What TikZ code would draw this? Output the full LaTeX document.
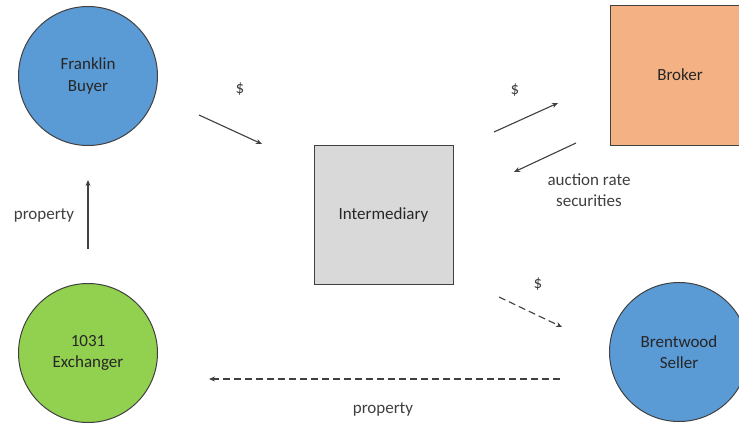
\documentclass[tikz,border=0pt]{standalone}
\usepackage{fontspec}
\setmainfont{Carlito}
\usetikzlibrary{arrows.meta}
\definecolor{bluefill}{HTML}{5B9BD5}
\definecolor{greenfill}{HTML}{92D050}
\definecolor{orangefill}{HTML}{F4B183}
\definecolor{greyfill}{HTML}{D9D9D9}
\definecolor{edgecol}{HTML}{404040}
\definecolor{txtcol}{HTML}{262626}
\definecolor{lblcol}{HTML}{404040}
\begin{document}
\begin{tikzpicture}[x=1pt,y=-1pt,
  shapetxt/.style={font=\fontsize{17}{21.5}\selectfont, text=txtcol, align=center},
  disc/.style={circle, draw=edgecol, line width=1pt, minimum size=139pt, inner sep=0pt, shapetxt},
  boxnode/.style={rectangle, draw=edgecol, line width=1pt, inner sep=0pt, shapetxt},
  lbl/.style={font=\fontsize{17}{21}\selectfont, text=lblcol, align=center},
  flow/.style={draw=lblcol, line width=1.1pt, -{Stealth[length=6pt,width=5pt]}},
  dflow/.style={flow, dash pattern=on 7pt off 4pt}]
\useasboundingbox (0,0) rectangle (739,423);
\clip (0,0) rectangle (739,423);
\fill[white] (0,0) rectangle (739,423);
% shapes
\node[disc, fill=bluefill] (buyer) at (88,76) {Franklin\\Buyer};
\node[disc, fill=greenfill] (exch) at (88,353) {1031\\Exchanger};
\node[disc, fill=bluefill] (seller) at (679,352) {Brentwood\\Seller};
\node[boxnode, fill=greyfill, minimum width=139pt, minimum height=139pt] (inter) at (383.5,214.5) {Intermediary};
\node[boxnode, fill=orangefill, minimum width=138pt, minimum height=140pt, anchor=north west] (broker) at (610,5) {};
\node[shapetxt] (brokertxt) at (680,75) {Broker};
% connector end points
\coordinate (a1) at (199,115); \coordinate (a2) at (262,144);
\coordinate (b1) at (494,132); \coordinate (b2) at (558,103);
\coordinate (c1) at (576,143); \coordinate (c2) at (514,172);
\coordinate (d1) at (499,297); \coordinate (d2) at (562,327);
\coordinate (e1) at (560,379); \coordinate (e2) at (209,379);
\coordinate (f1) at (88,249);  \coordinate (f2) at (88,180);
% connectors
\draw[flow] (a1) -- (a2);
\draw[flow] (b1) -- (b2);
\draw[flow] (c1) -- (c2);
\draw[dflow] (d1) -- (d2);
\draw[dflow] (e1) -- (e2);
\draw[flow] (f1) -- (f2);
% labels
\node[lbl] (l1) at (240,89) {\$};
\node[lbl] (l2) at (515,90) {\$};
\node[lbl] (l3) at (589,190) {auction rate\\securities};
\node[lbl] (l4) at (538,284) {\$};
\node[lbl] (l5) at (383,409) {property};
\node[lbl] (l6) at (44,215) {property};
\end{tikzpicture}
\end{document}
